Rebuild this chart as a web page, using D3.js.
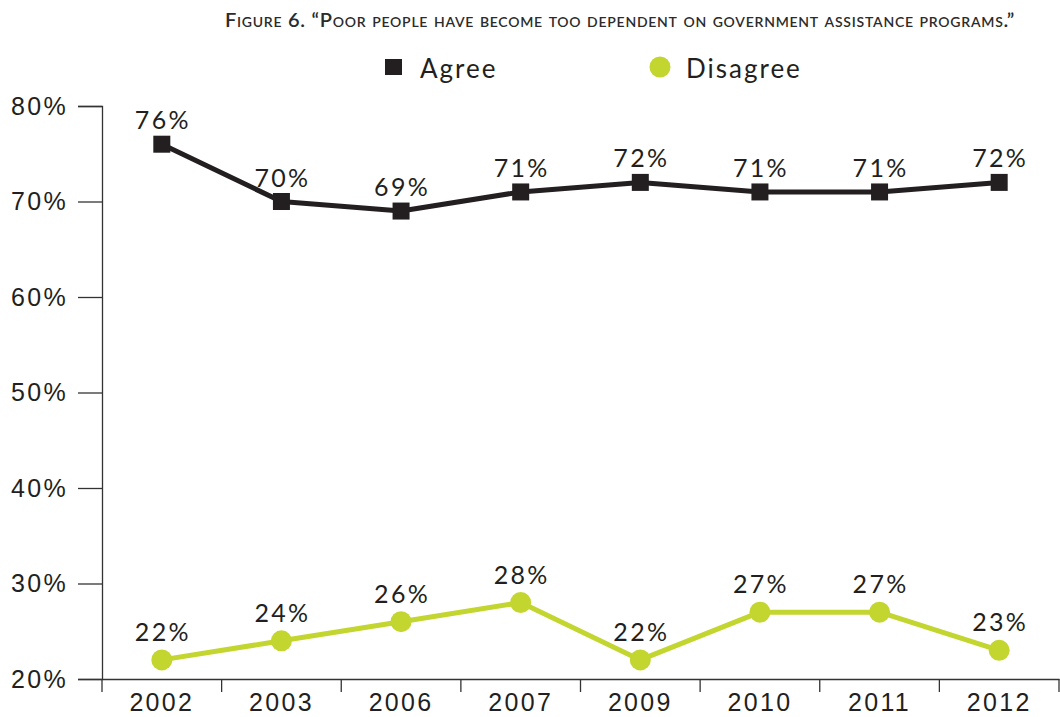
<!DOCTYPE html>
<html>
<head>
<meta charset="utf-8">
<script src="https://cdn.jsdelivr.net/npm/d3@7"></script>
<style>
  html, body { margin: 0; padding: 0; background: #fff; }
  svg { display: block; font-family: "Lato", "DejaVu Sans", sans-serif; }
</style>
</head>
<body>
<svg id="chart" width="1060" height="717"></svg>
<script>
// Survey years and shares (percent)
const years = ["2002", "2003", "2006", "2007", "2009", "2010", "2011", "2012"];
const agree = [76, 70, 69, 71, 72, 71, 71, 72];
const disagree = [22, 24, 26, 28, 22, 27, 27, 23];
const yTicks = [20, 30, 40, 50, 60, 70, 80];

const svg = d3.select("#chart");
const ink = "#231f20";
const green = "#c3d52f";
const numSize = "25px";
const numSpacing = "2.3px";

const x = d3.scaleBand().domain(years).range([102, 1059]);
const y = d3.scaleLinear().domain([20, 80]).range([679, 106]);

// Title
svg.append("text")
  .attr("x", 620).attr("y", 27)
  .attr("text-anchor", "middle")
  .style("font-variant", "small-caps")
  .style("font-size", "20px")
  .style("font-weight", "600")
  .style("letter-spacing", "0.75px")
  .attr("fill", "#2b2b2b")
  .text("Figure 6. \u201CPoor people have become too dependent on government assistance programs.\u201D");

// Legend
const legend = svg.append("g");
legend.append("rect").attr("x", 385).attr("y", 59).attr("width", 17).attr("height", 16).attr("fill", ink);
legend.append("text").attr("x", 420).attr("y", 78)
  .style("font-size", "26px").style("letter-spacing", "2px").attr("fill", ink).text("Agree");
legend.append("circle").attr("cx", 660).attr("cy", 67).attr("r", 10.5).attr("fill", green);
legend.append("text").attr("x", 686).attr("y", 78)
  .style("font-size", "26px").style("letter-spacing", "2px").attr("fill", ink).text("Disagree");

// Y axis
const yAxis = svg.append("g")
  .attr("transform", "translate(102,0)")
  .call(d3.axisLeft(y).tickValues(yTicks).tickFormat(d => d + "%").tickSize(24).tickPadding(10));
yAxis.select(".domain").attr("stroke", "#333").attr("stroke-width", 1.3);
yAxis.selectAll(".tick line").attr("stroke", "#333").attr("stroke-width", 1.3);
yAxis.selectAll(".tick text")
  .style("font-size", numSize).style("letter-spacing", numSpacing)
  .attr("fill", ink).attr("font-family", null);

// X axis
const xAxis = svg.append("g")
  .attr("transform", "translate(0,679)")
  .call(d3.axisBottom(x).tickSize(0).tickPadding(14));
xAxis.select(".domain").attr("stroke", "#333").attr("stroke-width", 1.3);
xAxis.selectAll(".tick text")
  .style("font-size", numSize).style("letter-spacing", numSpacing)
  .attr("fill", ink).attr("font-family", null);
// Band separators
xAxis.selectAll(".sep")
  .data(years.concat(["end"]))
  .enter().append("line")
  .attr("class", "sep")
  .attr("x1", (d, i) => i < years.length ? x(d) : x.range()[1])
  .attr("x2", (d, i) => i < years.length ? x(d) : x.range()[1])
  .attr("y1", 0).attr("y2", 13)
  .attr("stroke", "#333").attr("stroke-width", 1.3);

const cx = d => x(d) + x.bandwidth() / 2;

function drawSeries(vals, color, shape, labelGap) {
  const pts = years.map((yr, i) => ({ yr, v: vals[i] }));
  svg.append("path")
    .datum(pts)
    .attr("fill", "none")
    .attr("stroke", color)
    .attr("stroke-width", 5)
    .attr("stroke-linejoin", "round")
    .attr("d", d3.line().x(d => cx(d.yr)).y(d => y(d.v)));
  const g = svg.append("g");
  if (shape === "square") {
    g.selectAll("rect").data(pts).enter().append("rect")
      .attr("x", d => cx(d.yr) - 8.5).attr("y", d => y(d.v) - 8.5)
      .attr("width", 17).attr("height", 17).attr("fill", color);
  } else {
    g.selectAll("circle").data(pts).enter().append("circle")
      .attr("cx", d => cx(d.yr)).attr("cy", d => y(d.v)).attr("r", 10.5).attr("fill", color);
  }
  g.selectAll("text").data(pts).enter().append("text")
    .attr("x", d => cx(d.yr) + 1).attr("y", d => y(d.v) - labelGap)
    .attr("text-anchor", "middle")
    .style("font-size", numSize)
    .style("letter-spacing", numSpacing)
    .attr("fill", ink)
    .text(d => d.v + "%");
}

drawSeries(agree, ink, "square", 15);
drawSeries(disagree, green, "circle", 19);
</script>
</body>
</html>
